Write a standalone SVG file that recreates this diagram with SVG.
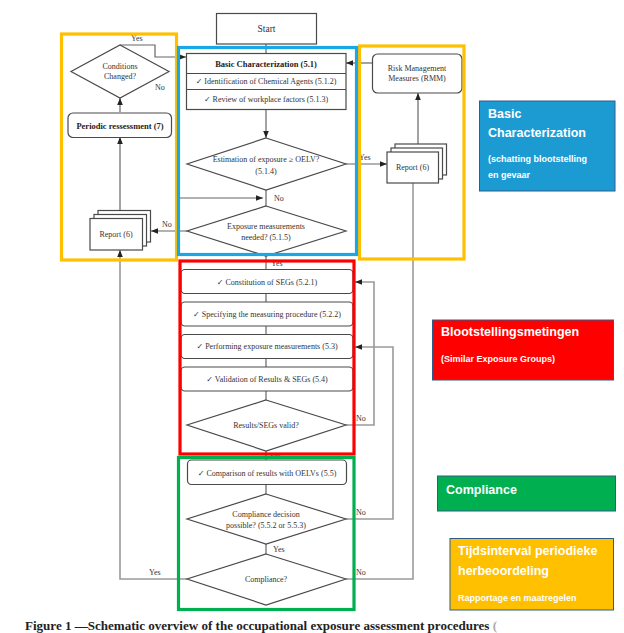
<svg xmlns="http://www.w3.org/2000/svg" width="624" height="633" viewBox="0 0 624 633">
<style>
.sh{fill:#fff;stroke:#4a4a4a;stroke-width:1.2}
.c{fill:none;stroke:#666;stroke-width:1.2}
.cl{fill:none;stroke:#9a9a9a;stroke-width:1.6}
.t{font-family:"Liberation Serif",serif;font-size:8px;fill:#333;text-anchor:middle}
.tb{font-family:"Liberation Serif",serif;font-size:8.5px;fill:#222;text-anchor:middle;font-weight:bold}
.lb{font-family:"Liberation Serif",serif;font-size:8px;fill:#333}
.ck{font-family:"DejaVu Sans",sans-serif}
.frame{fill:none;stroke-width:3.2}
.lt{font-family:"Liberation Sans",Arial,sans-serif;font-weight:bold;fill:#fff}
</style>
<defs>
<marker id="ah" viewBox="0 0 10 10" refX="10" refY="5" markerWidth="7" markerHeight="7" markerUnits="userSpaceOnUse" orient="auto">
<path d="M0,1 L10,5 L0,9 z" fill="#222"/>
</marker>
</defs>
<rect width="624" height="633" fill="#fff"/>

<g id="connectors">
<line class="c" x1="266" y1="44" x2="266" y2="53"/>
<line class="c" x1="266" y1="109" x2="266" y2="138" marker-end="url(#ah)"/>
<line class="c" x1="266" y1="190" x2="266" y2="206"/>
<line class="c" x1="180" y1="198" x2="263" y2="198" marker-end="url(#ah)"/>
<line class="c" x1="266" y1="256" x2="266" y2="269"/>
<line class="c" x1="266" y1="293" x2="266" y2="302"/>
<line class="c" x1="266" y1="326" x2="266" y2="334"/>
<line class="c" x1="266" y1="358" x2="266" y2="367"/>
<line class="c" x1="266" y1="391" x2="266" y2="400"/>
<line class="c" x1="266" y1="451" x2="266" y2="460"/>
<line class="c" x1="266" y1="484" x2="266" y2="494"/>
<line class="c" x1="266" y1="544" x2="266" y2="554"/>
<polyline class="c" points="120,45 155,45 155,57 186,57" marker-end="url(#ah)"/>
<line class="c" x1="120" y1="112" x2="120" y2="98" marker-end="url(#ah)"/>
<line class="c" x1="120" y1="210" x2="120" y2="137" marker-end="url(#ah)"/>
<line class="c" x1="187" y1="231" x2="151" y2="231" marker-end="url(#ah)"/>
<line class="c" x1="372" y1="63" x2="346" y2="63" marker-end="url(#ah)"/>
<line class="c" x1="346" y1="164" x2="387" y2="164" marker-end="url(#ah)"/>
<line class="c" x1="418" y1="144" x2="418" y2="93" marker-end="url(#ah)"/>
<polyline class="cl" points="346,425 374,425 374,282 355,282" marker-end="url(#ah)"/>
<polyline class="cl" points="346,519 393,519 393,347 355,347" marker-end="url(#ah)"/>
<polyline class="cl" points="346,579 413,579 413,183"/>
<polyline class="cl" points="187,579 120,579 120,250" marker-end="url(#ah)"/>
<text class="lb" x="131" y="41">Yes</text>
<text class="lb" x="155" y="90">No</text>
<text class="lb" x="162" y="227">No</text>
<text class="lb" x="274" y="201">No</text>
<text class="lb" x="359" y="160">Yes</text>
<text class="lb" x="271" y="266">Yes</text>
<text class="lb" x="356" y="421">No</text>
<text class="lb" x="269" y="459">Yes</text>
<text class="lb" x="356" y="515">No</text>
<text class="lb" x="273" y="552">Yes</text>
<text class="lb" x="149" y="575">Yes</text>
<text class="lb" x="356" y="575">No</text>
</g>

<g id="start">
<rect class="sh" x="216.5" y="13.5" width="100" height="30.5"/>
<text class="t" x="266.5" y="32" style="font-size:9.5px">Start</text>
</g>

<g id="basic-characterization">
<rect class="sh" x="186.5" y="53.5" width="159.5" height="56"/>
<line class="sh" x1="186.5" y1="73.5" x2="346" y2="73.5"/>
<line class="sh" x1="186.5" y1="89.5" x2="346" y2="89.5"/>
<text class="tb" x="266" y="67">Basic Characterization (5.1)</text>
<text class="t" x="266" y="84"><tspan class="ck">✓</tspan> Identification of Chemical Agents (5.1.2)</text>
<text class="t" x="266" y="102"><tspan class="ck">✓</tspan>  Review of workplace factors (5.1.3)</text>
</g>

<g id="estimation">
<polygon class="sh" points="266,138 346,164 266,190 187,164"/>
<text class="t" x="266" y="162">Estimation of exposure ≥ OELV?</text>
<text class="t" x="266" y="174">(5.1.4)</text>
</g>

<g id="exposure-needed">
<polygon class="sh" points="266,206 346,231 266,256 187,231"/>
<text class="t" x="266" y="229">Exposure measurements</text>
<text class="t" x="266" y="240">needed? (5.1.5)</text>
</g>

<g id="conditions-changed">
<polygon class="sh" points="120,45 169,71.5 120,98 71,71.5"/>
<text class="t" x="120" y="69">Conditions</text>
<text class="t" x="120" y="79">Changed?</text>
</g>

<g id="periodic">
<rect class="sh" x="68" y="113" width="103.5" height="24.5" rx="5"/>
<text class="tb" x="120" y="128.5">Periodic ressessment (7)</text>
</g>

<g id="report-left">
<rect class="sh" x="98" y="210.5" width="52.5" height="31.5"/>
<rect class="sh" x="94" y="214.5" width="52.5" height="31.5"/>
<rect class="sh" x="90" y="218.5" width="52.5" height="31.5"/>
<text class="t" x="116" y="237">Report (6)</text>
</g>

<g id="rmm">
<rect class="sh" x="372.5" y="54" width="89.5" height="39" rx="5"/>
<text class="t" x="417" y="71">Risk Management</text>
<text class="t" x="417" y="81">Measures (RMM)</text>
</g>

<g id="report-right">
<rect class="sh" x="395" y="144" width="51.5" height="31"/>
<rect class="sh" x="391" y="148" width="51.5" height="31"/>
<rect class="sh" x="387" y="152" width="51.5" height="31"/>
<text class="t" x="412.5" y="170">Report (6)</text>
</g>

<g id="constitution">
<rect class="sh" x="181" y="269.5" width="172" height="24" rx="4"/>
<text class="t" x="267" y="284.5"><tspan class="ck">✓</tspan> Constitution of SEGs (5.2.1)</text>
</g>
<g id="specifying">
<rect class="sh" x="181" y="302" width="172" height="24" rx="4"/>
<text class="t" x="267" y="316.5"><tspan class="ck">✓</tspan> Specifying the measuring procedure (5.2.2)</text>
</g>
<g id="performing">
<rect class="sh" x="181" y="334.5" width="172" height="24" rx="4"/>
<text class="t" x="267" y="349"><tspan class="ck">✓</tspan> Performing exposure measurements (5.3)</text>
</g>
<g id="validation">
<rect class="sh" x="181" y="367" width="172" height="24" rx="4"/>
<text class="t" x="267" y="381.5"><tspan class="ck">✓</tspan> Validation of Results &amp; SEGs (5.4)</text>
</g>
<g id="results-valid">
<polygon class="sh" points="266,400 346,425 266,451 187,425"/>
<text class="t" x="266" y="428">Results/SEGs valid?</text>
</g>

<g id="comparison">
<rect class="sh" x="187.5" y="460" width="159" height="24.5" rx="4"/>
<text class="t" x="267" y="475.5"><tspan class="ck">✓</tspan> Comparison of results with OELVs (5.5)</text>
</g>
<g id="compliance-decision">
<polygon class="sh" points="266,494 346,519 266,544 187,519"/>
<text class="t" x="266" y="517">Compliance decision</text>
<text class="t" x="266" y="528">possible? (5.5.2 or 5.5.3)</text>
</g>
<g id="compliance">
<polygon class="sh" points="266,554 346,579 266,605 187,579"/>
<text class="t" x="266" y="582">Compliance?</text>
</g>

<g id="frames">
<rect class="frame" x="61.5" y="34" width="115" height="226" stroke="#FFC000"/>
<rect class="frame" x="359.5" y="46" width="104.5" height="213" stroke="#FFC000"/>
<rect class="frame" x="178.5" y="47.5" width="178" height="207" stroke="#1AA7E8"/>
<rect class="frame" x="180" y="261" width="174" height="193" stroke="#FF0000"/>
<rect class="frame" x="178.5" y="457.5" width="175.5" height="152" stroke="#00B050"/>
</g>

<g id="legend-basic">
<rect x="479.5" y="101" width="135.5" height="90" fill="#1C9BD3" stroke="#2F5D8A" stroke-width="1"/>
<text class="lt" x="488" y="118" font-size="12.5">Basic</text>
<text class="lt" x="488" y="137" font-size="12.5">Characterization</text>
<text class="lt" x="488" y="162" font-size="9">(schatting blootstelling</text>
<text class="lt" x="488" y="178" font-size="9">en gevaar</text>
</g>
<g id="legend-metingen">
<rect x="432.5" y="320" width="181" height="60" fill="#FF0000" stroke="#2F5D8A" stroke-width="1"/>
<text class="lt" x="441" y="336" font-size="12.5">Blootstellingsmetingen</text>
<text class="lt" x="441" y="362" font-size="9">(Similar Exposure Groups)</text>
</g>
<g id="legend-compliance">
<rect x="437.5" y="476" width="178" height="35" fill="#00B050" stroke="#2F5D8A" stroke-width="1"/>
<text class="lt" x="446" y="493.5" font-size="12.5">Compliance</text>
</g>
<g id="legend-tijds">
<rect x="450" y="538.5" width="163.5" height="71.5" fill="#FFC000" stroke="#2F5D8A" stroke-width="1"/>
<text class="lt" x="458" y="555" font-size="12.5">Tijdsinterval periodieke</text>
<text class="lt" x="458" y="575" font-size="12.5">herbeoordeling</text>
<text class="lt" x="458" y="601" font-size="9">Rapportage  en maatregelen</text>
</g>

<text x="25" y="630" font-family="Liberation Serif,serif" font-size="12" font-weight="bold" fill="#222" textLength="472" lengthAdjust="spacingAndGlyphs">Figure 1 —Schematic overview of the occupational exposure assessment procedures <tspan fill="#aaa">(</tspan></text>
</svg>
